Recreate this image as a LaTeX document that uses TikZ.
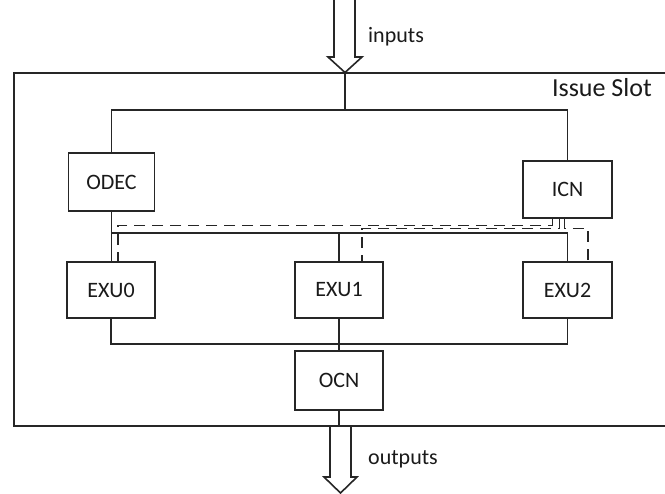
\documentclass[tikz,border=0pt]{standalone}
\usepackage{fontspec}
\setmainfont{Carlito}
\definecolor{linec}{HTML}{262626}
\definecolor{txtc}{HTML}{1A1A1A}
\begin{document}
\begin{tikzpicture}[x=1pt,y=-1pt,
  wire/.style={draw=linec, line width=1.6pt},
  dsh/.style={draw=linec, line width=1.5pt, dash pattern=on 11pt off 7pt},
  blk/.style={draw=linec, line width=1.6pt, fill=white, minimum width=88.5pt,
    minimum height=57pt, inner sep=0pt, text=txtc, font=\fontsize{22}{26}\selectfont},
  lbl/.style={inner sep=0pt, text=txtc, font=\fontsize{22}{26}\selectfont}]
\useasboundingbox (0,0) rectangle (665,494);
\fill[white] (0,0) rectangle (665,494);

% issue slot frame (open on the right)
\draw[wire] (665,73) -- (14,73) -- (14,426) -- (665,426);
\node[anchor=base east, inner sep=0pt, text=txtc, font=\fontsize{26}{30}\selectfont] (slot) at (652,97) {Issue Slot};

% functional blocks
\node[blk, minimum width=86pt, minimum height=58pt] (odec) at (111.5,182) {ODEC};
\node[blk] (icn) at (567.5,189.5) {ICN};
\node[blk, minimum height=56pt] (exu0) at (111,290) {EXU0};
\node[blk, minimum height=56pt] (exu1) at (339,290) {EXU1};
\node[blk, minimum height=56pt] (exu2) at (567.5,290) {EXU2};
\node[blk, minimum height=59pt] (ocn) at (339,380.5) {OCN};

% input arrow
\coordinate (intip) at (345,72.5);
\draw[wire] (334,-3) -- (334,57) -- (328,57) -- (intip) -- (362,57) -- (355,57) -- (355,-3);
\node[lbl, anchor=base west] (inlbl) at (368,43) {inputs};

% top distribution bus
\coordinate (topbus) at (345,110);
\draw[wire] (intip) -- (topbus);
\draw[wire] (odec.north) |- (topbus) -| (icn.north);

% middle bus feeding the execution units
\coordinate (midbus) at (339,233);
\draw[wire] (odec.south) -- (odec.south |- exu0.north);
\draw[wire] (odec.south |- midbus) -| (exu2.north);
\draw[wire] (midbus) -- (exu1.north);

% ICN operand paths
\coordinate (d0) at (118,225.5);
\coordinate (d1) at (362,228.5);
\coordinate (d2) at (588,228.5);
\draw[dsh] ([xshift=30pt]icn.south west) |- (d0) -- (d0 |- exu0.north);
\draw[dsh] ([xshift=37pt]icn.south west) |- (d1) -- (d1 |- exu1.north);
\draw[dsh] ([xshift=42pt]icn.south west) |- (d2) -- (d2 |- exu2.north);

% result bus into the OCN
\coordinate (botbus) at (339,344);
\draw[wire] (exu0.south) |- (botbus) -| (exu2.south);
\draw[wire] (exu1.south) -- (ocn.north);
\coordinate (outtop) at (339,426);
\draw[wire] (ocn.south) -- (outtop);

% output arrow
\coordinate (outtip) at (340.5,493);
\draw[wire] (330,426) -- (330,477) -- (324,477) -- (outtip) -- (357,477) -- (351,477) -- (351,426);
\node[lbl, anchor=base west] (outlbl) at (368,465) {outputs};
\end{tikzpicture}
\end{document}
